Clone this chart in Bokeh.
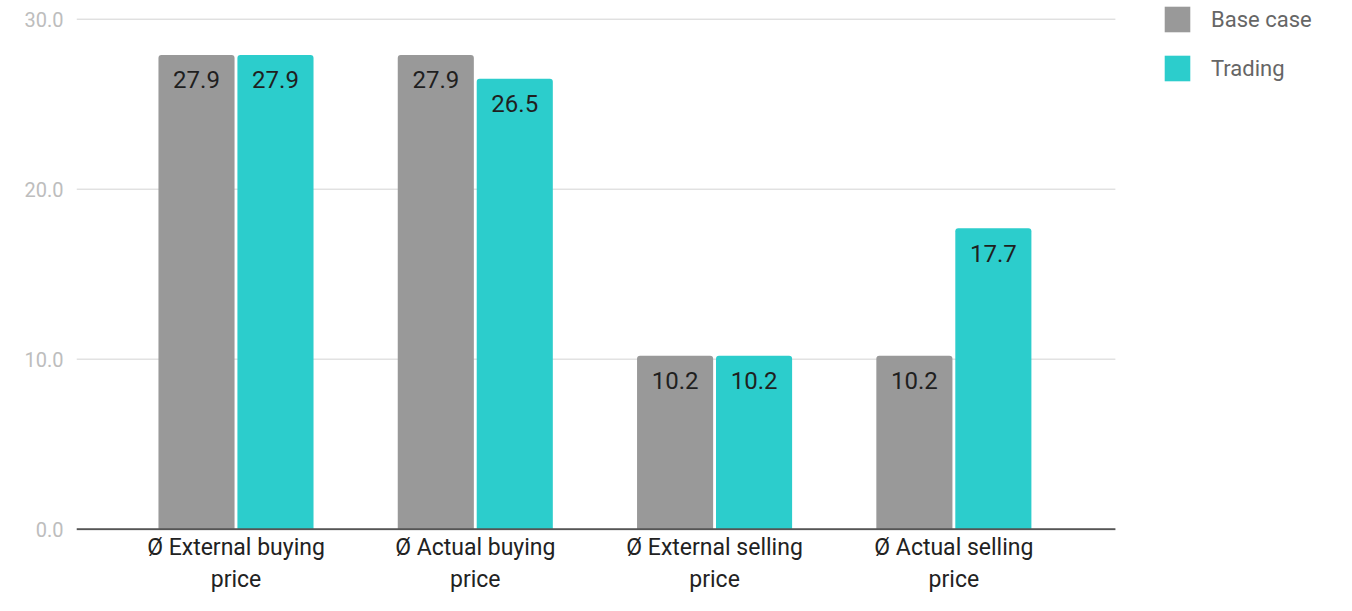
from bokeh.plotting import figure
from bokeh.models import (Range1d, FixedTicker, NumeralTickFormatter, ColumnDataSource,
                          Legend, LegendItem)
from bokeh.core.properties import value
from bokeh.embed import file_html
from bokeh.resources import INLINE

categories = ["Ø External buying\nprice", "Ø Actual buying\nprice",
              "Ø External selling\nprice", "Ø Actual selling\nprice"]
base_case = [27.9, 27.9, 10.2, 10.2]
trading = [27.9, 26.5, 10.2, 17.7]
series_names = ["Base case", "Trading"]
y_ticks = [0, 10, 20, 30]

GRAY = "#999999"
TEAL = "#2ccdcc"
FONT = "Roboto"

idx = list(range(len(categories)))
OFF = 0.165
W = 0.318
X0, XG = -0.6665, 3.675     # plot-area left edge / end of grid lines (data units)

p = figure(width=1336, height=595, output_backend="svg", toolbar_location=None,
           x_range=Range1d(X0, 4.599), y_range=Range1d(-0.08, 31.1),
           min_border_left=76, min_border_right=0, min_border_top=0, min_border_bottom=62)
p.outline_line_color = None
p.background_fill_color = "white"
p.border_fill_color = "white"

# grid lines (end at right side of the chart area, legend sits beyond)
p.segment(x0=[X0] * len(y_ticks), x1=[XG] * len(y_ticks), y0=y_ticks, y1=y_ticks,
          line_color="#d3d3d3", line_width=1)

src_b = ColumnDataSource(dict(x=[i - OFF for i in idx], top=base_case,
                              lab=[f"{v:.1f}" for v in base_case]))
src_t = ColumnDataSource(dict(x=[i + OFF for i in idx], top=trading,
                              lab=[f"{v:.1f}" for v in trading]))

rb = p.vbar(x="x", top="top", width=W, bottom=0, source=src_b, fill_color=GRAY,
            line_color=None, border_radius=[3, 3, 0, 0])
rt = p.vbar(x="x", top="top", width=W, bottom=0, source=src_t, fill_color=TEAL,
            line_color=None, border_radius=[3, 3, 0, 0])

# baseline
p.segment(x0=[X0], x1=[XG], y0=[0], y1=[0], line_color="#555555", line_width=2)

for s in (src_b, src_t):
    p.text(x="x", y="top", text="lab", source=s, text_align="center",
           text_baseline="middle", y_offset=25, text_font=value(FONT),
           text_font_size="24px", text_color="#1f1f1f")

# axes
p.xaxis.ticker = FixedTicker(ticks=idx)
p.xaxis.major_label_overrides = {i: c for i, c in zip(idx, categories)}
p.xaxis.major_label_text_font = FONT
p.xaxis.major_label_text_font_size = "23px"
p.xaxis.major_label_text_color = "#222222"
p.xaxis.major_tick_line_color = None
p.xaxis.minor_tick_line_color = None
p.xaxis.major_tick_out = 0
p.xaxis.major_tick_in = 0
p.xaxis.major_label_standoff = 3
p.xaxis.axis_line_color = None

p.yaxis.ticker = FixedTicker(ticks=y_ticks)
p.yaxis.formatter = NumeralTickFormatter(format="0.0")
p.yaxis.major_label_text_font = FONT
p.yaxis.major_label_text_font_size = "20px"
p.yaxis.major_label_text_color = "#bdbdbd"
p.yaxis.axis_line_color = None
p.yaxis.major_tick_line_color = None
p.yaxis.minor_tick_line_color = None
p.yaxis.major_tick_out = 0
p.yaxis.major_tick_in = 0
p.yaxis.major_label_standoff = 13

p.xgrid.grid_line_color = None
p.ygrid.grid_line_color = None

legend = Legend(items=[LegendItem(label=series_names[0], renderers=[rb]),
                       LegendItem(label=series_names[1], renderers=[rt])],
                location=(1085, 446), orientation="vertical",
                glyph_width=32, glyph_height=32, spacing=17, padding=0, margin=0,
                label_standoff=18, label_text_font=FONT, label_text_font_size="22px",
                label_text_color="#666666", border_line_color=None,
                background_fill_alpha=0)
p.add_layout(legend, "center")

open("out.html", "w").write(file_html(p, INLINE))
